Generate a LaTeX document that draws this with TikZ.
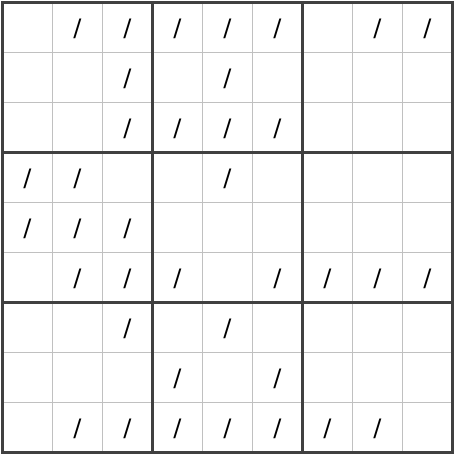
\documentclass[tikz,border=0pt]{standalone}
\usepackage{fontspec}
\setmainfont{DejaVu Sans}
\definecolor{thin}{HTML}{C0C0C0}
\definecolor{thick}{HTML}{404040}
\begin{document}
\begin{tikzpicture}[x=1pt,y=-1pt,
  thinline/.style={draw=thin,line width=1pt},
  thickline/.style={draw=thick,line width=3pt},
  slashmark/.style={font=\fontsize{24}{24}\selectfont,inner sep=0pt,anchor=center}]
\useasboundingbox (0,0) rectangle (455,455);
\foreach \i in {1,2,4,5,7,8} {
  \draw[thinline] (2.5+50*\i,2.5) -- (2.5+50*\i,452.5);
  \draw[thinline] (2.5,2.5+50*\i) -- (452.5,2.5+50*\i);
}
\foreach \i in {3,6} {
  \draw[thickline] (2.5+50*\i,2.5) -- (2.5+50*\i,452.5);
  \draw[thickline] (2.5,2.5+50*\i) -- (452.5,2.5+50*\i);
}
\draw[thickline] (2.5,2.5) rectangle (452.5,452.5);
\foreach \r/\cols in {1/{2,3,4,5,6,8,9},2/{3,5},3/{3,4,5,6},4/{1,2,5},5/{1,2,3},6/{2,3,4,6,7,8,9},7/{3,5},8/{4,6},9/{2,3,4,5,6,7,8}} {
  \foreach \c in \cols {
    \node[slashmark] (s\r\c) at (50*\c-22.5,50*\r-21.5) {/};
  }
}
\end{tikzpicture}
\end{document}
